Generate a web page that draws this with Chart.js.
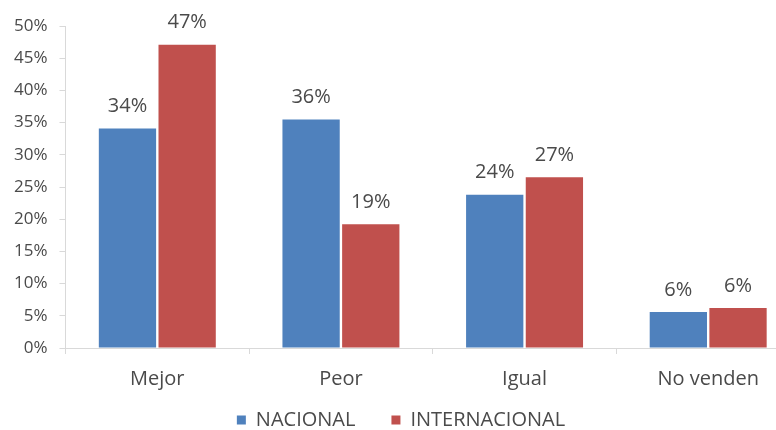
<!DOCTYPE html>
<html>
<head>
<meta charset="utf-8">
<script src="https://cdn.jsdelivr.net/npm/chart.js@4"></script>
<style>
  html, body { margin: 0; padding: 0; background: #fff; overflow: hidden; }
  #wrap { width: 800px; height: 430px; }
</style>
</head>
<body>
<div id="wrap"><canvas id="chart"></canvas></div>
<script>
const categories = ['Mejor', 'Peor', 'Igual', 'No venden'];
const nacional = [34.1, 35.5, 23.8, 5.6];
const internacional = [47.1, 19.2, 26.5, 6.2];
const yTicks = [0, 5, 10, 15, 20, 25, 30, 35, 40, 45, 50];

const FONT = '"Open Sans", sans-serif';
const TEXT = '#4a4a4a';

// draws the value above each bar
const barLabels = {
  id: 'barLabels',
  afterDatasetsDraw(chart) {
    const ctx = chart.ctx;
    ctx.save();
    ctx.font = '20px ' + FONT;
    ctx.fillStyle = TEXT;
    ctx.textAlign = 'center';
    ctx.textBaseline = 'bottom';
    chart.data.datasets.forEach((ds, i) => {
      chart.getDatasetMeta(i).data.forEach((bar, j) => {
        ctx.fillText(Math.round(ds.data[j]) + '%', bar.x, bar.y - 12);
      });
    });
    ctx.restore();
  }
};

new Chart(document.getElementById('chart'), {
  type: 'bar',
  data: {
    labels: categories,
    datasets: [
      { label: 'NACIONAL', data: nacional, backgroundColor: '#4F81BD',
        barPercentage: 0.96, categoryPercentage: 0.65 },
      { label: 'INTERNACIONAL', data: internacional, backgroundColor: '#C0504D',
        barPercentage: 0.96, categoryPercentage: 0.65 }
    ]
  },
  options: {
    responsive: true,
    maintainAspectRatio: false,
    animation: false,
    layout: { padding: { top: 26, left: 2, right: 0, bottom: 0 } },
    plugins: {
      tooltip: { enabled: false },
      legend: {
        position: 'bottom',
        maxHeight: 36,
        labels: {
          font: { family: FONT, size: 20 },
          color: TEXT,
          boxWidth: 9,
          boxHeight: 9,
          padding: 16,
          // a little extra room between the two entries
          generateLabels: chart => {
            const items = Chart.defaults.plugins.legend.labels.generateLabels(chart);
            items[0].text += '\u2002\u2002';
            return items;
          }
        }
      }
    },
    scales: {
      x: {
        grid: { offset: true, drawOnChartArea: false, color: '#d9d9d9', tickLength: 6 },
        border: { color: '#d9d9d9' },
        ticks: { font: { family: FONT, size: 20 }, color: TEXT, padding: 13 },
        afterFit: axis => { axis.height = 46; }
      },
      y: {
        min: 0,
        max: 50,
        afterBuildTicks: axis => { axis.ticks = yTicks.map(v => ({ value: v })); },
        grid: { drawOnChartArea: false, color: '#d9d9d9', tickLength: 6 },
        border: { color: '#d9d9d9' },
        ticks: {
          font: { family: FONT, size: 17 },
          color: TEXT,
          padding: 12,
          callback: v => v + '%'
        }
      }
    }
  },
  plugins: [barLabels]
});
</script>
</body>
</html>
